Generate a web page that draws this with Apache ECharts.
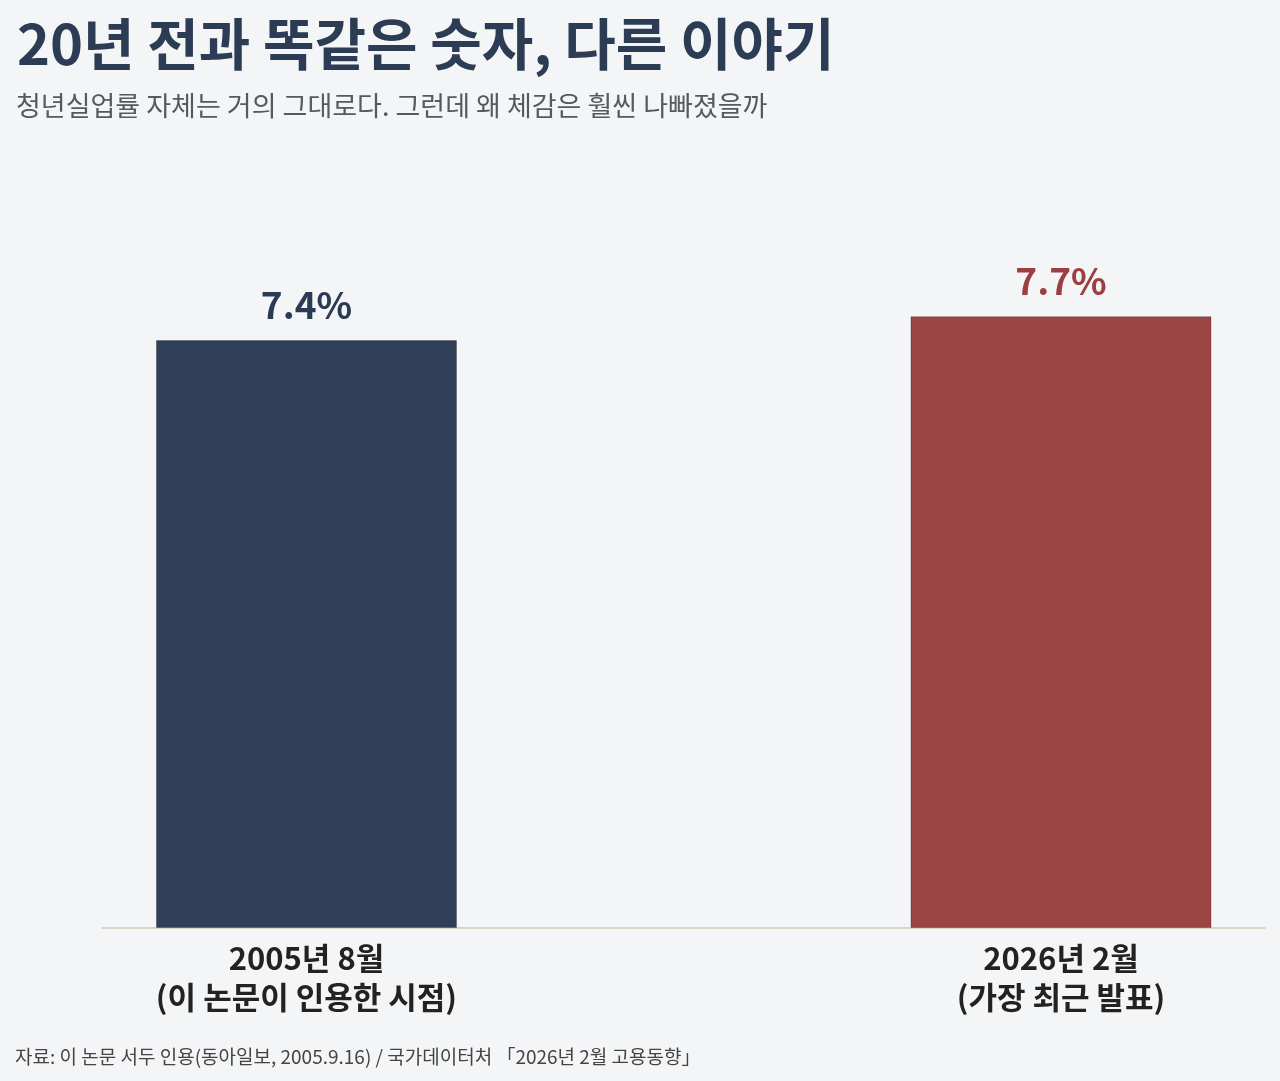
<!DOCTYPE html>
<html>
<head>
<meta charset="utf-8">
<script src="https://cdn.jsdelivr.net/npm/echarts@6/dist/echarts.min.js"></script>
<style>
  html, body { margin: 0; padding: 0; background: #f4f5f7; }
  #chart { width: 1280px; height: 1081px; }
</style>
</head>
<body>
<div id="chart"></div>
<script>
var categories = ['2005년 8월\n(이 논문이 인용한 시점)', '2026년 2월\n(가장 최근 발표)'];
var values = [7.4, 7.7];
var barColors = ['#2e3f57', '#9b4545'];
var labelColors = ['#2b3b53', '#9b3f3f'];

var font = '"Noto Sans CJK KR", "Noto Sans", sans-serif';

var chart = echarts.init(document.getElementById('chart'));

var option = {
    backgroundColor: '#f4f5f7',
    title: [{
        text: '20년 전과 똑같은 숫자, 다른 이야기',
        left: 12,
        top: 11,
        textStyle: { fontFamily: font, fontSize: 56, fontWeight: 'bold', color: '#2c3c54' }
    }, {
        text: '청년실업률 자체는 거의 그대로다. 그런데 왜 체감은 훨씬 나빠졌을까',
        left: 11,
        top: 87,
        textStyle: { fontFamily: font, fontSize: 27, fontWeight: 'normal', color: '#555a60' }
    }, {
        text: '자료: 이 논문 서두 인용(동아일보, 2005.9.16) / 국가데이터처 「2026년 2월 고용동향」',
        left: 10,
        top: 1042,
        textStyle: { fontFamily: font, fontSize: 19, fontWeight: 'normal', color: '#444' }
    }],
    grid: { left: 102, right: 15, top: 213, bottom: 153 },
    xAxis: {
        type: 'value',
        min: -0.271,
        max: 1.2704,
        splitLine: { show: false },
        axisTick: { show: false },
        axisLine: { show: true, onZero: false, lineStyle: { color: '#d9d3c5', width: 2 } },
        axisLabel: {
            customValues: [0, 1],
            margin: 11,
            formatter: function (v) { return categories[Math.round(v)]; },
            fontFamily: font,
            fontSize: 31,
            fontWeight: 'bold',
            color: '#222',
            lineHeight: 39
        }
    },
    yAxis: {
        type: 'value',
        min: 0,
        max: 9,
        show: false
    },
    series: [{
        type: 'bar',
        barWidth: 301,
        data: values.map(function (v, i) {
            return {
                value: [i, v],
                itemStyle: { color: barColors[i], borderColor: 'rgba(0,0,0,0.25)', borderWidth: 1 },
                label: { color: labelColors[i] }
            };
        }),
        label: {
            show: true,
            position: 'top',
            distance: 17,
            formatter: function (p) { return p.value[1].toFixed(1) + '%'; },
            fontFamily: font,
            fontSize: 37,
            fontWeight: 'bold'
        }
    }]
};

chart.setOption(option);
</script>
</body>
</html>
